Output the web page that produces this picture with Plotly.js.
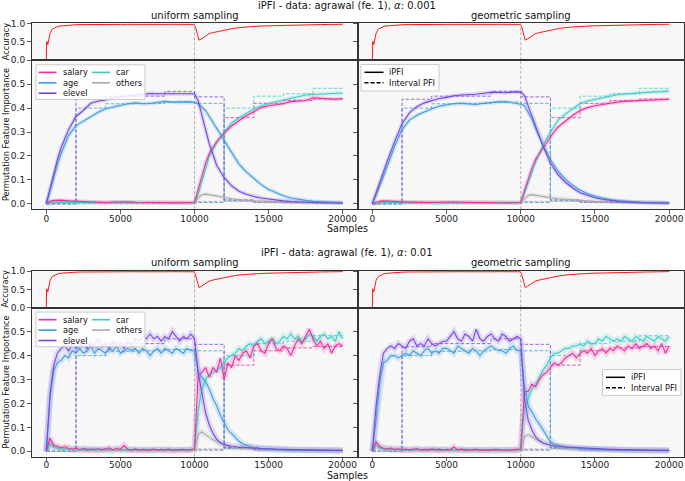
<!DOCTYPE html>
<html><head><meta charset="utf-8">
<script src="https://cdn.plot.ly/plotly-3.0.1.min.js"></script>
<style>html,body{margin:0;padding:0;background:#fff}#chart{width:685px;height:481px}</style>
</head><body><div id="chart"></div>
<script>
// ---------------- DATA ----------------
const FEATURES = ['salary', 'age', 'elevel', 'car', 'others'];
const X_TICKS = [0, 5000, 10000, 15000, 20000];
const X_TICK_LABELS = ['0', '5000', '10000', '15000', '20000'];
const ACC_TICKS = [0, 0.5, 1.0];
const ACC_TICK_LABELS = ['0.0', '0.5', '1.0'];
const PFI_TICKS = [0, 0.1, 0.2, 0.3, 0.4, 0.5];
const PFI_TICK_LABELS = ['0.0', '0.1', '0.2', '0.3', '0.4', '0.5'];

// accuracy (same model in every panel)
const ACC_X = [0,20,50,100,150,250,400,600,800,1000,1200,1400,1700,2000,2500,3000,3500,4000,4500,5000,5500,6000,6500,7000,7500,8000,8500,9000,9500,9950,10050,10150,10300,10450,10600,10800,11000,11300,11700,12200,12600,13200,13700,14300,14800,15500,16200,17000,17800,18500,19200,20000];
const ACC = [0,0.52,0.5,0.43,0.52,0.74,0.85,0.9,0.93,0.94,0.95,0.955,0.965,0.97,0.975,0.98,0.978,0.975,0.98,0.98,0.982,0.978,0.98,0.982,0.979,0.98,0.983,0.98,0.982,0.98,0.93,0.78,0.55,0.58,0.62,0.67,0.73,0.76,0.8,0.83,0.87,0.9,0.92,0.93,0.94,0.95,0.955,0.96,0.97,0.975,0.98,0.985];

// interval PFI (computed on 2000-sample windows)
const INT_X = [0,2000,4000,6000,8000,10000,12000,14000,16000,18000,20000];
const INT_SALARY = [0.0,0.004,0.004,0.004,0.004,0.006,0.36,0.42,0.432,0.438,0.438];
const INT_AGE    = [0.0,0.40,0.418,0.42,0.425,0.42,0.012,0.006,0.004,0.003,0.003];
const INT_ELEVEL = [0.0,0.437,0.45,0.45,0.47,0.447,0.016,0.008,0.005,0.004,0.004];
const INT_CAR    = [0.0,0.003,0.003,0.003,0.003,0.005,0.40,0.45,0.46,0.483,0.483];
const INT_OTHERS = [0.0,0.003,0.003,0.003,0.003,0.01,0.01,0.005,0.004,0.003,0.003];

// alpha = 0.001 (smooth)
const TOP_X = [0,250,500,750,1000,1500,2000,2500,3000,3500,4000,4500,5000,5500,6000,6500,7000,7500,8000,8500,9000,9500,10000,10250,10500,10750,11000,11500,12000,12500,13000,13500,14000,14500,15000,15500,16000,16500,17000,17500,18000,18500,19000,19500,20000];
const TL_SALARY = [0,0.01,0.014,0.016,0.015, 0.012,0.01,0.008,0.006,0.005,0.005,0.007,0.009,0.008,0.006,0.005,0.005,0.006,0.005,0.004,0.004,0.004,0.005, 0.06,0.12,0.17,0.21, 0.26,0.295,0.325,0.347,0.368,0.385,0.402,0.41,0.414,0.418,0.427,0.43,0.432,0.443,0.44,0.438,0.437,0.44];
const TL_AGE = [0,0.055,0.115,0.165,0.21, 0.285,0.327,0.345,0.365,0.383,0.397,0.405,0.412,0.418,0.422,0.418,0.419,0.424,0.428,0.425,0.426,0.427,0.424, 0.418,0.405,0.39,0.365, 0.315,0.26,0.21,0.166,0.133,0.105,0.08,0.06,0.045,0.033,0.024,0.018,0.014,0.01,0.008,0.006,0.005,0.004];
const TL_ELEVEL = [0,0.065,0.13,0.185,0.235, 0.31,0.365,0.39,0.42,0.43,0.434,0.443,0.447,0.45,0.453,0.455,0.461,0.46,0.46,0.458,0.457,0.459,0.46, 0.43,0.37,0.31,0.25, 0.16,0.11,0.075,0.052,0.04,0.03,0.024,0.019,0.015,0.012,0.009,0.007,0.006,0.005,0.004,0.004,0.003,0.003];
const TL_CAR = [0,0.004,0.005,0.006,0.006, 0.005,0.005,0.004,0.004,0.004,0.004,0.004,0.004,0.004,0.004,0.003,0.003,0.003,0.003,0.003,0.003,0.003,0.004, 0.04,0.09,0.15,0.2, 0.255,0.3,0.338,0.36,0.378,0.396,0.41,0.42,0.427,0.434,0.44,0.448,0.455,0.457,0.459,0.46,0.461,0.463];
const TL_OTHERS = [0,0.005,0.008,0.009,0.008, 0.007,0.006,0.005,0.005,0.005,0.005,0.005,0.005,0.005,0.005,0.005,0.005,0.005,0.005,0.005,0.005,0.005,0.005, 0.025,0.037,0.04,0.038, 0.033,0.026,0.02,0.017,0.014,0.012,0.011,0.009,0.008,0.007,0.006,0.006,0.005,0.005,0.005,0.004,0.004,0.004];

const TR_SALARY = [0,0.006,0.01,0.012,0.012, 0.01,0.008,0.006,0.005,0.005,0.005,0.006,0.008,0.007,0.006,0.005,0.004,0.004,0.004,0.004,0.004,0.004,0.005, 0.055,0.105,0.148,0.185, 0.235,0.28,0.32,0.345,0.37,0.39,0.402,0.41,0.416,0.421,0.425,0.428,0.43,0.431,0.432,0.434,0.436,0.437];
const TR_AGE = [0,0.035,0.075,0.115,0.157, 0.24,0.31,0.35,0.37,0.385,0.397,0.408,0.413,0.419,0.42,0.417,0.415,0.42,0.424,0.426,0.427,0.422,0.416, 0.41,0.385,0.355,0.315, 0.245,0.185,0.137,0.103,0.077,0.057,0.042,0.031,0.023,0.018,0.013,0.01,0.008,0.006,0.005,0.004,0.004,0.003];
const TR_ELEVEL = [0,0.045,0.09,0.135,0.178, 0.26,0.335,0.38,0.406,0.422,0.432,0.44,0.445,0.452,0.455,0.456,0.458,0.462,0.466,0.465,0.464,0.467,0.468, 0.452,0.41,0.37,0.32, 0.24,0.17,0.123,0.09,0.066,0.046,0.035,0.025,0.019,0.014,0.01,0.008,0.006,0.005,0.004,0.004,0.003,0.003];
const TR_CAR = [0,0.003,0.004,0.005,0.005, 0.004,0.004,0.004,0.003,0.003,0.003,0.003,0.003,0.003,0.003,0.003,0.003,0.003,0.003,0.003,0.003,0.003,0.005, 0.045,0.09,0.134,0.175, 0.245,0.3,0.348,0.375,0.397,0.418,0.43,0.437,0.444,0.45,0.456,0.459,0.462,0.464,0.466,0.468,0.469,0.471];
const TR_OTHERS = [0,0.004,0.007,0.008,0.008, 0.007,0.006,0.005,0.005,0.005,0.005,0.005,0.005,0.005,0.005,0.005,0.004,0.004,0.004,0.004,0.004,0.004,0.005, 0.02,0.035,0.038,0.036, 0.03,0.025,0.021,0.018,0.016,0.014,0.012,0.01,0.009,0.008,0.007,0.006,0.006,0.005,0.005,0.005,0.004,0.004];

// alpha = 0.01 (noisy)
const BOT_X = [0,250,500,750,1000,1250,1500,1750,2000,2250,2500,2750,3000,3250,3500,3750,4000,4250,4500,4750,5000,5250,5500,5750,6000,6250,6500,6750,7000,7250,7500,7750,8000,8250,8500,8750,9000,9250,9500,9750,10000,10250,10500,10750,11000,11250,11500,11750,12000,12250,12500,12750,13000,13250,13500,13750,14000,14250,14500,14750,15000,15250,15500,15750,16000,16250,16500,16750,17000,17250,17500,17750,18000,18250,18500,18750,19000,19250,19500,19750,20000];
const BL_SALARY = [0.0,0.055,0.025,0.02,0.015,0.02,0.012,0.01,0.014,0.008, 0.012,0.006,0.01,0.008,0.012,0.006,0.009,0.015,0.007,0.012, 0.008,0.025,0.008,0.005,0.01,0.006,0.008,0.004,0.007,0.009, 0.005,0.008,0.006,0.009,0.005,0.007,0.006,0.008,0.005,0.007, 0.01,0.32,0.33,0.35,0.31,0.35,0.33,0.39,0.30,0.37, 0.35,0.40,0.38,0.41,0.42,0.39,0.44,0.45,0.42,0.41, 0.45,0.47,0.43,0.42,0.44,0.43,0.40,0.44,0.47,0.45, 0.48,0.51,0.47,0.44,0.46,0.43,0.45,0.41,0.44,0.45,0.44];
const BL_AGE = [0.0,0.22,0.34,0.37,0.38,0.40,0.39,0.42,0.41,0.43, 0.41,0.42,0.44,0.41,0.43,0.42,0.41,0.43,0.42,0.44, 0.41,0.42,0.43,0.42,0.43,0.41,0.43,0.42,0.40,0.42, 0.43,0.41,0.43,0.42,0.41,0.43,0.42,0.41,0.43,0.42, 0.42,0.33,0.31,0.29,0.26,0.22,0.19,0.15,0.12,0.09, 0.075,0.06,0.042,0.032,0.025,0.02,0.016,0.013,0.012,0.01, 0.009,0.008,0.008,0.007,0.006,0.006,0.006,0.005,0.005,0.005, 0.005,0.004,0.004,0.004,0.004,0.004,0.003,0.003,0.003,0.003,0.003];
const BL_ELEVEL = [0.0,0.24,0.36,0.41,0.43,0.44,0.42,0.45,0.43,0.44, 0.46,0.43,0.45,0.44,0.47,0.44,0.45,0.43,0.46,0.44, 0.45,0.43,0.46,0.44,0.47,0.46,0.48,0.47,0.49,0.47, 0.48,0.46,0.48,0.47,0.50,0.48,0.46,0.48,0.47,0.49, 0.47,0.33,0.24,0.16,0.11,0.075,0.05,0.036,0.028,0.024, 0.021,0.02,0.017,0.018,0.015,0.014,0.013,0.014,0.011,0.012, 0.01,0.011,0.009,0.01,0.008,0.009,0.007,0.008,0.007,0.006, 0.007,0.006,0.006,0.005,0.006,0.005,0.005,0.004,0.005,0.004,0.004];
const BL_CAR = [0.0,0.03,0.015,0.012,0.01,0.008,0.012,0.006,0.01,0.007, 0.009,0.012,0.006,0.008,0.005,0.01,0.007,0.009,0.006,0.011, 0.007,0.005,0.009,0.006,0.008,0.005,0.007,0.009,0.006,0.008, 0.005,0.007,0.006,0.008,0.005,0.007,0.006,0.005,0.007,0.006, 0.01,0.17,0.26,0.30,0.32,0.33,0.34,0.35,0.37,0.39, 0.40,0.41,0.43,0.42,0.44,0.45,0.44,0.46,0.47,0.45, 0.46,0.47,0.45,0.46,0.48,0.47,0.49,0.47,0.48,0.46, 0.47,0.49,0.48,0.46,0.48,0.49,0.47,0.48,0.46,0.50,0.47];
const BL_OTHERS = [0.0,0.04,0.02,0.014,0.01,0.012,0.008,0.006,0.01,0.005, 0.007,0.004,0.006,0.008,0.004,0.006,0.005,0.003,0.006,0.004, 0.005,0.007,0.004,0.006,0.003,0.005,0.004,0.006,0.003,0.005, 0.004,0.006,0.003,0.005,0.004,0.003,0.005,0.004,0.006,0.004, 0.01,0.07,0.082,0.07,0.058,0.048,0.04,0.032,0.026,0.021, 0.018,0.016,0.014,0.013,0.012,0.011,0.01,0.01,0.009,0.009, 0.008,0.008,0.007,0.007,0.007,0.006,0.006,0.006,0.005,0.005, 0.005,0.005,0.005,0.004,0.005,0.004,0.004,0.004,0.004,0.004,0.004];

const BR_SALARY = [0.0,0.04,0.02,0.012,0.01,0.014,0.008,0.011,0.007,0.01, 0.006,0.009,0.012,0.006,0.008,0.005,0.01,0.007,0.009,0.005, 0.008,0.006,0.018,0.006,0.009,0.005,0.007,0.006,0.008,0.005, 0.007,0.006,0.005,0.008,0.006,0.005,0.007,0.005,0.006,0.007, 0.01,0.25,0.25,0.28,0.27,0.30,0.32,0.33,0.35,0.37, 0.36,0.37,0.39,0.40,0.41,0.39,0.41,0.42,0.41,0.43, 0.40,0.42,0.43,0.41,0.43,0.42,0.44,0.43,0.42,0.44, 0.43,0.45,0.43,0.44,0.45,0.43,0.44,0.42,0.45,0.41,0.44];
const BR_AGE = [0.0,0.13,0.29,0.37,0.38,0.40,0.40,0.39,0.40,0.41, 0.40,0.42,0.41,0.40,0.42,0.43,0.41,0.42,0.41,0.43, 0.43,0.42,0.41,0.44,0.43,0.42,0.41,0.43,0.42,0.40, 0.42,0.43,0.44,0.43,0.42,0.42,0.41,0.43,0.44,0.42, 0.42,0.27,0.19,0.165,0.135,0.115,0.09,0.07,0.04,0.03, 0.025,0.02,0.018,0.016,0.014,0.013,0.012,0.011,0.01,0.009, 0.009,0.008,0.008,0.007,0.007,0.006,0.006,0.006,0.005,0.005, 0.005,0.005,0.004,0.004,0.004,0.004,0.004,0.003,0.003,0.003,0.003];
const BR_ELEVEL = [0.0,0.19,0.32,0.41,0.43,0.44,0.43,0.45,0.44,0.43, 0.46,0.47,0.44,0.45,0.44,0.47,0.45,0.44,0.45,0.46, 0.46,0.48,0.50,0.47,0.46,0.49,0.48,0.46,0.51,0.47, 0.46,0.48,0.49,0.47,0.46,0.49,0.48,0.46,0.47,0.48, 0.47,0.22,0.13,0.09,0.06,0.045,0.035,0.03,0.026,0.022, 0.02,0.019,0.018,0.016,0.015,0.014,0.014,0.012,0.012,0.011, 0.01,0.01,0.009,0.009,0.008,0.008,0.007,0.007,0.007,0.006, 0.006,0.006,0.005,0.005,0.005,0.005,0.004,0.004,0.004,0.004,0.004];
const BR_CAR = [0.0,0.025,0.012,0.01,0.008,0.01,0.006,0.009,0.007,0.005, 0.008,0.006,0.009,0.005,0.007,0.01,0.006,0.008,0.005,0.007, 0.006,0.008,0.005,0.007,0.006,0.009,0.005,0.006,0.008,0.005, 0.006,0.007,0.005,0.006,0.008,0.005,0.006,0.007,0.005,0.006, 0.01,0.18,0.22,0.26,0.28,0.31,0.34,0.36,0.39,0.41, 0.41,0.42,0.43,0.43,0.44,0.44,0.45,0.44,0.46,0.45, 0.45,0.47,0.46,0.48,0.47,0.46,0.47,0.46,0.48,0.47, 0.46,0.48,0.47,0.46,0.48,0.47,0.46,0.48,0.47,0.46,0.48];
const BR_OTHERS = [0.0,0.035,0.018,0.012,0.01,0.008,0.01,0.006,0.008,0.005, 0.006,0.004,0.007,0.005,0.003,0.006,0.004,0.005,0.003,0.006, 0.004,0.005,0.003,0.006,0.004,0.003,0.005,0.004,0.006,0.003, 0.005,0.004,0.003,0.005,0.004,0.006,0.003,0.005,0.004,0.005, 0.01,0.06,0.07,0.06,0.05,0.042,0.035,0.03,0.022,0.019, 0.017,0.015,0.014,0.013,0.012,0.011,0.01,0.01,0.009,0.009, 0.008,0.008,0.007,0.007,0.007,0.006,0.006,0.006,0.005,0.005, 0.005,0.005,0.005,0.004,0.005,0.004,0.004,0.004,0.004,0.004,0.004];

// ---------------- STYLE / LAYOUT ----------------
const COLORS = {salary:'#ee2f9f', age:'#3d9ddb', elevel:'#7847e0', car:'#3ccbc5', others:'#a9a9a9'};
const FONT = 'DejaVu Sans, Arial, sans-serif';
const P = x => x / 685;
const Q = y => 1 - y / 481;
const XL = [P(31.5), P(357.5)], XR = [P(357.5), P(684)];
const INTERVAL = {salary:INT_SALARY, age:INT_AGE, elevel:INT_ELEVEL, car:INT_CAR, others:INT_OTHERS};

const panels = [
  {n:1, kind:'acc', xd:XL, yd:[Q(60.3), Q(23.3)], left:true},
  {n:2, kind:'pfi', xd:XL, yd:[Q(209), Q(60.3)], left:true, xs:TOP_X, band:[4,0.2], so:-2,
   d:{salary:TL_SALARY, age:TL_AGE, elevel:TL_ELEVEL, car:TL_CAR, others:TL_OTHERS}},
  {n:3, kind:'acc', xd:XR, yd:[Q(60.3), Q(23.3)], left:false},
  {n:4, kind:'pfi', xd:XR, yd:[Q(209), Q(60.3)], left:false, xs:TOP_X, band:[4,0.2], so:-2,
   d:{salary:TR_SALARY, age:TR_AGE, elevel:TR_ELEVEL, car:TR_CAR, others:TR_OTHERS}},
  {n:5, kind:'acc', xd:XL, yd:[Q(307.7), Q(270.7)], left:true},
  {n:6, kind:'pfi', xd:XL, yd:[Q(456.6), Q(307.7)], left:true, xs:BOT_X, band:[6,0.18], so:-4,
   d:{salary:BL_SALARY, age:BL_AGE, elevel:BL_ELEVEL, car:BL_CAR, others:BL_OTHERS}},
  {n:7, kind:'acc', xd:XR, yd:[Q(307.7), Q(270.7)], left:false},
  {n:8, kind:'pfi', xd:XR, yd:[Q(456.6), Q(307.7)], left:false, xs:BOT_X, band:[6,0.18], so:-4,
   d:{salary:BR_SALARY, age:BR_AGE, elevel:BR_ELEVEL, car:BR_CAR, others:BR_OTHERS}}
];

const traces = [];
const shapes = [];
const annotations = [];
const layout = {
  width: 685, height: 481,
  margin: {l:0, r:0, t:0, b:0},
  paper_bgcolor: '#ffffff', plot_bgcolor: '#f7f7f7',
  font: {family: FONT, size: 9, color: '#222'},
  showlegend: false
};

panels.forEach(p => {
  const s = p.n === 1 ? '' : String(p.n);
  const xr = 'x' + s, yr = 'y' + s;
  const pfi = p.kind === 'pfi';
  layout['xaxis' + s] = {
    domain: p.xd, anchor: yr, range: [-1000, 21000], fixedrange: true,
    showline: true, mirror: true, linecolor: '#333', linewidth: 1,
    showgrid: false, zeroline: false,
    ticks: pfi ? 'outside' : '', ticklen: 3.5, tickwidth: 0.8, tickcolor: '#333',
    ticklabelstandoff: p.so || 0,
    tickmode: 'array', tickvals: X_TICKS, ticktext: X_TICK_LABELS,
    showticklabels: pfi, tickfont: {size: 9, color: '#222'}
  };
  layout['yaxis' + s] = {
    domain: p.yd, anchor: xr, fixedrange: true,
    range: pfi ? [-0.022, 0.6] : [0, 1.01],
    showline: true, mirror: true, linecolor: '#333', linewidth: 1,
    showgrid: false, zeroline: false,
    ticks: 'outside', ticklen: 3.5, tickwidth: 0.8, tickcolor: '#333',
    tickmode: 'array',
    tickvals: pfi ? PFI_TICKS : ACC_TICKS,
    ticktext: pfi ? PFI_TICK_LABELS : ACC_TICK_LABELS,
    showticklabels: p.left, tickfont: {size: 9, color: '#222'}
  };
  // concept drift marker
  shapes.push({type:'line', xref: xr, yref: yr + ' domain', x0: 10000, x1: 10000, y0: 0, y1: 1,
    line: {color: '#a0a0a0', width: 0.8, dash: '3px,2px'}, layer: 'below'});

  if (!pfi) {
    traces.push({type:'scatter', mode:'lines', x: ACC_X, y: ACC, xaxis: xr, yaxis: yr,
      line: {color: '#ff1a1a', width: 1}, hoverinfo: 'skip'});
    return;
  }
  // bands
  FEATURES.forEach(f => {
    traces.push({type:'scatter', mode:'lines', x: p.xs, y: p.d[f], xaxis: xr, yaxis: yr,
      line: {color: COLORS[f], width: p.band[0]}, opacity: p.band[1], hoverinfo: 'skip'});
  });
  // interval PFI (dashed steps)
  FEATURES.forEach(f => {
    traces.push({type:'scatter', mode:'lines', x: INT_X, y: INTERVAL[f], xaxis: xr, yaxis: yr,
      line: {color: COLORS[f], width: 1, dash: '3.5px,1.8px', shape: 'hv'}, opacity: 0.8, hoverinfo: 'skip'});
  });
  // iPFI lines
  ['others', 'car', 'salary', 'age', 'elevel'].forEach(f => {
    traces.push({type:'scatter', mode:'lines', x: p.xs, y: p.d[f], xaxis: xr, yaxis: yr,
      line: {color: COLORS[f], width: 1.1}, hoverinfo: 'skip'});
  });
});

// titles
function txt(text, x, y, size, opts) {
  annotations.push(Object.assign({text: text, xref: 'paper', yref: 'paper', x: P(x), y: Q(y),
    xanchor: 'center', yanchor: 'middle', showarrow: false, borderpad: 0,
    font: {family: FONT, size: size, color: '#111'}}, opts || {}));
}
[[0, 'iPFI - data: agrawal (fe. 1), <i>α</i>: 0.001', 228.2], [247.3, 'iPFI - data: agrawal (fe. 1), <i>α</i>: 0.01', 228.0]].forEach(([dy, t, sy]) => {
  txt(t, 347, 5.5 + dy, 10);
  txt('uniform sampling', 194.5, 15.5 + dy, 10);
  txt('geometric sampling', 521, 15.5 + dy, 10);
  txt('Samples', 347, sy + dy, 9.6);
  txt('Accuracy', 5.5, 41.8 + dy, 8.2, {textangle: -90});
  txt('Permutation Feature Importance', 5.5, 134.6 + dy, 8.2, {textangle: -90});

  // feature legend (two columns)
  shapes.push({type:'rect', xref:'paper', yref:'paper', x0:P(36), x1:P(145), y0:Q(99.5+dy), y1:Q(64.8+dy),
    fillcolor:'rgba(255,255,255,0.85)', line:{color:'#cccccc', width:1}, layer:'above'});
  const cols = [[['salary', 72.4], ['age', 82.8], ['elevel', 93.2]], [['car', 72.4], ['others', 82.8]]];
  const cx = [[38.5, 56.5, 61.5], [92, 110, 115]];
  cols.forEach((col, ci) => col.forEach(([f, yy]) => {
    shapes.push({type:'line', xref:'paper', yref:'paper', x0:P(cx[ci][0]), x1:P(cx[ci][1]), y0:Q(yy+dy), y1:Q(yy+dy),
      line:{color: COLORS[f], width: 1.6}, layer:'above'});
    txt(f, cx[ci][2], yy + dy, 8.2, {xanchor:'left'});
  }));
});

// iPFI / Interval PFI legends
[[361, 64.5, 439, 91], [602.5, 369.5, 681, 395.5]].forEach(([x0, y0, x1, y1]) => {
  shapes.push({type:'rect', xref:'paper', yref:'paper', x0:P(x0), x1:P(x1), y0:Q(y1), y1:Q(y0),
    fillcolor:'rgba(255,255,255,0.85)', line:{color:'#cccccc', width:1}, layer:'above'});
  const r1 = y0 + 7.8, r2 = y0 + 18.2;
  shapes.push({type:'line', xref:'paper', yref:'paper', x0:P(x0+3.5), x1:P(x0+22.5), y0:Q(r1), y1:Q(r1),
    line:{color:'#000', width:1.5}, layer:'above'});
  shapes.push({type:'line', xref:'paper', yref:'paper', x0:P(x0+3.5), x1:P(x0+22.5), y0:Q(r2), y1:Q(r2),
    line:{color:'#000', width:1.5, dash:'4px,2px'}, layer:'above'});
  txt('iPFI', x0 + 27, r1, 8.2, {xanchor:'left'});
  txt('Interval PFI', x0 + 27, r2, 8.2, {xanchor:'left'});
});

layout.shapes = shapes;
layout.annotations = annotations;
Plotly.newPlot('chart', traces, layout, {staticPlot: true, displayModeBar: false});
</script>
</body></html>
